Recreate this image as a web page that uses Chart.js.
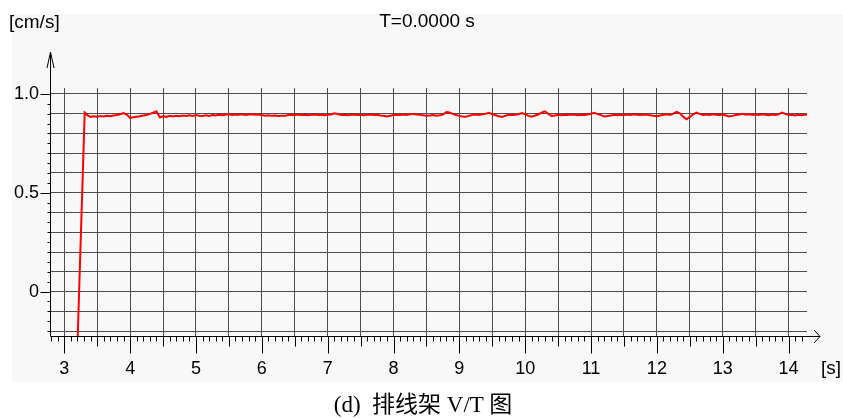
<!DOCTYPE html>
<html>
<head>
<meta charset="utf-8">
<title>排线架 V/T 图</title>
<script src="https://cdn.jsdelivr.net/npm/chart.js@4/dist/chart.umd.min.js"></script>
<style>
  html, body { margin: 0; padding: 0; background: #ffffff; }
  #wrap { position: relative; width: 843px; height: 419px; overflow: hidden; }
  #plot { position: absolute; left: 0; top: 0; }
  #caption {
    position: absolute; left: 0; width: 846px; top: 392px;
    text-align: center; white-space: pre;
    font: 23px "Liberation Serif", "Times New Roman", "Noto Sans CJK SC", serif;
    line-height: 25px; color: #000;
  }
</style>
</head>
<body>
<div id="wrap">
  <canvas id="plot" width="843" height="419"></canvas>
  <div id="caption">(d)  排线架 V/T 图</div>
</div>
<script>
// Speed record of the wire-guide carriage.
// Start-up ramp (time in s, speed in cm/s).
const rampTimes = [3.20, 3.31];
const rampSpeeds = [-0.27, 0.906];

// Steady run, sampled every 0.05 s starting at 3.35 s.
const sampleStart = 3.35;
const sampleStep = 0.05;
const steadySpeeds = [
  0.893, 0.884, 0.887, 0.884, 0.888, 0.886, 0.889, 0.887, 0.891, 0.893, // 3.35 - 3.80
  0.897, 0.903, 0.896, 0.879, 0.882, 0.885, 0.887, 0.891, 0.893, 0.899, // 3.85 - 4.30
  0.905, 0.912, 0.882, 0.887, 0.884, 0.889, 0.886, 0.890, 0.887, 0.891, // 4.35 - 4.80
  0.888, 0.892, 0.889, 0.893, 0.890, 0.888, 0.892, 0.889, 0.893, 0.891, // 4.85 - 5.30
  0.894, 0.892, 0.895, 0.897, 0.894, 0.896, 0.895, 0.897, 0.894, 0.896, // 5.35 - 5.80
  0.897, 0.895, 0.896, 0.893, 0.890, 0.892, 0.889, 0.891, 0.888, 0.890, // 5.85 - 6.30
  0.889, 0.893, 0.895, 0.894, 0.896, 0.893, 0.895, 0.892, 0.894, 0.896, // 6.35 - 6.80
  0.893, 0.895, 0.892, 0.894, 0.896, 0.902, 0.898, 0.893, 0.895, 0.892, // 6.85 - 7.30
  0.894, 0.896, 0.893, 0.895, 0.892, 0.894, 0.896, 0.893, 0.895, 0.891, // 7.35 - 7.80
  0.889, 0.886, 0.890, 0.893, 0.895, 0.894, 0.896, 0.893, 0.897, 0.899, // 7.85 - 8.30
  0.896, 0.894, 0.892, 0.889, 0.891, 0.893, 0.890, 0.892, 0.895, 0.908, // 8.35 - 8.80
  0.906, 0.899, 0.893, 0.889, 0.886, 0.884, 0.890, 0.894, 0.896, 0.894, // 8.85 - 9.30
  0.897, 0.900, 0.904, 0.897, 0.892, 0.887, 0.884, 0.890, 0.894, 0.893, // 9.35 - 9.80
  0.895, 0.897, 0.903, 0.897, 0.889, 0.885, 0.891, 0.896, 0.905, 0.912, // 9.85 - 10.30
  0.899, 0.889, 0.891, 0.894, 0.892, 0.895, 0.893, 0.896, 0.894, 0.892, // 10.35 - 10.80
  0.895, 0.893, 0.896, 0.900, 0.904, 0.898, 0.893, 0.886, 0.888, 0.891, // 10.85 - 11.30
  0.894, 0.892, 0.895, 0.893, 0.896, 0.894, 0.897, 0.895, 0.893, 0.896, // 11.35 - 11.80
  0.894, 0.892, 0.889, 0.887, 0.891, 0.895, 0.897, 0.894, 0.900, 0.909, // 11.85 - 12.30
  0.902, 0.885, 0.872, 0.884, 0.896, 0.905, 0.899, 0.893, 0.896, 0.894, // 12.35 - 12.80
  0.897, 0.895, 0.893, 0.896, 0.891, 0.886, 0.889, 0.893, 0.896, 0.899, // 12.85 - 13.30
  0.895, 0.897, 0.894, 0.896, 0.893, 0.897, 0.895, 0.892, 0.896, 0.894, // 13.35 - 13.80
  0.897, 0.906, 0.899, 0.893, 0.895, 0.891, 0.894, 0.892, 0.896, 0.894  // 13.85 - 14.30
];

// Axis ranges and tick labels
const xRange = [2.783, 14.28];
const yRange = [-0.225, 1.03];
const xLabelValues = [3, 4, 5, 6, 7, 8, 9, 10, 11, 12, 13, 14];
const yLabelValues = [0, 0.5, 1.0];
const yLabelTexts = ['0', '0.5', '1.0'];
const yUnit = '[cm/s]';
const xUnit = '[s]';
const headerText = 'T=0.0000 s';

const points = rampTimes.map((t, i) => ({ x: t, y: rampSpeeds[i] }));
steadySpeeds.forEach((v, i) => {
  points.push({ x: +(sampleStart + i * sampleStep).toFixed(2), y: v });
});

const near = (a, b) => Math.abs(a - b) < 1e-6;
const GRID = '#4e4e4e';
const SANS = '"Liberation Sans", Arial, sans-serif';

// Panel background, axes with arrows, minor ticks and unit labels
const decor = {
  id: 'decor',
  beforeDraw(chart) {
    const ctx = chart.ctx;
    ctx.save();
    ctx.fillStyle = '#ffffff';
    ctx.fillRect(0, 0, chart.width, chart.height);
    ctx.fillStyle = '#f8f8f8';
    ctx.fillRect(12, 14, chart.width - 12, 368);
    ctx.restore();
  },
  afterDraw(chart) {
    const ctx = chart.ctx;
    const xs = chart.scales.x, ys = chart.scales.y;
    const ax = Math.round(xs.left) + 0.5;   // y axis position
    const ay = Math.round(ys.bottom) + 0.5; // x axis position
    ctx.save();
    ctx.strokeStyle = '#000';
    ctx.lineWidth = 1;
    ctx.beginPath();
    // y axis with open arrow head
    ctx.moveTo(ax, ay); ctx.lineTo(ax, 52);
    ctx.moveTo(ax - 3.5, 68); ctx.lineTo(ax, 52); ctx.lineTo(ax + 3.5, 68);
    // x axis with open arrow head
    ctx.moveTo(ax, ay); ctx.lineTo(820, ay);
    ctx.moveTo(814, ay - 6.5); ctx.lineTo(820, ay); ctx.lineTo(814, ay + 6.5);
    ctx.stroke();

    // x ticks every 0.1 s, longer at half and whole seconds
    ctx.beginPath();
    for (let k = 28; k <= 142; k++) {
      const t = k / 10;
      const px = Math.round(xs.getPixelForValue(t)) + 0.5;
      const len = (k % 10 === 0) ? 17 : (k % 5 === 0) ? 10 : 5;
      ctx.moveTo(px, ay); ctx.lineTo(px, ay + len);
    }
    // y ticks every 0.05, longer at labelled values
    for (let k = -4; k <= 20; k++) {
      const v = k / 20;
      const py = Math.round(ys.getPixelForValue(v)) + 0.5;
      const len = (k % 10 === 0) ? 10 : 3;
      ctx.moveTo(ax, py); ctx.lineTo(ax - len, py);
    }
    ctx.stroke();

    ctx.fillStyle = '#000';
    ctx.textBaseline = 'alphabetic';
    ctx.font = '19px ' + SANS;
    ctx.textAlign = 'left';
    ctx.fillText(yUnit, 9, 28);
    ctx.fillText(xUnit, 821, 374);
    ctx.textAlign = 'center';
    ctx.fillText(headerText, 427, 27);
    ctx.restore();
  }
};

new Chart(document.getElementById('plot'), {
  type: 'line',
  data: {
    datasets: [{
      data: points,
      borderColor: '#ff0000',
      borderWidth: 2,
      pointRadius: 0,
      tension: 0,
      fill: false
    }]
  },
  options: {
    responsive: false,
    animation: false,
    events: [],
    layout: { padding: { left: 0, top: 88, right: 36, bottom: 0 } },
    plugins: { legend: { display: false }, tooltip: { enabled: false }, title: { display: false } },
    scales: {
      x: {
        type: 'linear',
        min: xRange[0], max: xRange[1],
        afterFit(s) { s.height = 83; },
        border: { display: false },
        grid: { color: GRID, lineWidth: 1, drawTicks: false },
        ticks: {
          stepSize: 0.5, includeBounds: false, autoSkip: false, maxRotation: 0,
          padding: 22, color: '#000', font: { family: SANS, size: 18 },
          callback(v) {
            const hit = xLabelValues.find(n => near(n, v));
            return hit === undefined ? '' : String(hit);
          }
        }
      },
      y: {
        type: 'linear',
        min: yRange[0], max: yRange[1],
        afterFit(s) { s.width = 50; },
        border: { display: false },
        grid: { color: GRID, lineWidth: 1, drawTicks: false },
        ticks: {
          stepSize: 0.1, includeBounds: false, autoSkip: false,
          padding: 11, color: '#000', font: { family: SANS, size: 18 },
          callback(v) {
            const i = yLabelValues.findIndex(n => near(n, v));
            return i < 0 ? '' : yLabelTexts[i];
          }
        }
      }
    }
  },
  plugins: [decor]
});
</script>
</body>
</html>
